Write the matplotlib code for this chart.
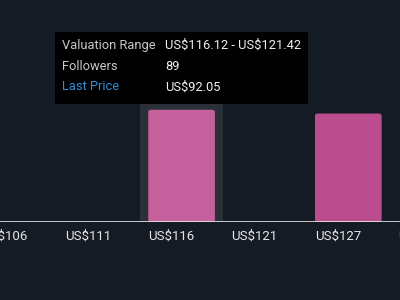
import matplotlib.pyplot as plt
from matplotlib.patches import FancyBboxPatch, Rectangle

# data
categories = ['US$106', 'US$111', 'US$116', 'US$121', 'US$127', 'US$132']
followers = [0, 0, 89, 0, 86, 0]
bar_colors = ['#bb4d8e', '#bb4d8e', '#c4609b', '#bb4d8e', '#bb4d8e', '#bb4d8e']
hover_idx = 2
tooltip_rows = [('Valuation Range', 'US$116.12 - US$121.42'),
                ('Followers', '89'),
                ('Last Price', 'US$92.05')]

plt.rcParams['font.family'] = ['Roboto', 'DejaVu Sans']
plt.rcParams['text.parse_math'] = False
bg = '#151b25'

fig = plt.figure(figsize=(4, 3), dpi=100, facecolor=bg)
ax = fig.add_axes([0, 0.26, 1, 0.74])
ax.set_facecolor(bg)

# highlight band behind hovered category
ax.bar(hover_idx, 100, width=1.0, color='#2a2f38', zorder=0)

width = 0.8
for i, (v, c) in enumerate(zip(followers, bar_colors)):
    if v > 0:
        ax.add_patch(FancyBboxPatch((i - width / 2, 0), width, v,
                                    boxstyle='round,pad=0,rounding_size=0.04',
                                    mutation_aspect=40, fc=c, ec='none', zorder=2))

ax.axhline(0, color='#e8e8e8', lw=1.2, zorder=3)

for s in ax.spines.values():
    s.set_visible(False)
ax.set_yticks([])
ax.set_xticks([])
ax.set_xlim(-0.178, 4.62)
ax.set_ylim(0, 176)

# category labels, left-aligned with bar edge
for i, cat in enumerate(categories):
    ax.text(i - width / 2, -14 / 222, cat, transform=ax.get_xaxis_transform(),
            ha='left', va='center', color='#e6e6e6', fontsize=9.5, clip_on=False)

# tooltip (pixel coordinates, origin top-left)
def px(x, y):
    return x / 400, 1 - y / 300

x0, y0 = px(55, 104)
x1, y1 = px(308, 32)
fig.patches.append(Rectangle((x0, y0), x1 - x0, y1 - y0, transform=fig.transFigure,
                             fc='#000000', ec='none', zorder=5))
for k, (lab, val) in enumerate(tooltip_rows):
    ty = 45 + k * 21
    lc = '#2f8fd8' if lab == 'Last Price' else '#c8c8c8'
    fig.text(*px(62, ty), lab, color=lc, fontsize=9.3, va='center', zorder=6)
    fig.text(*px(165, ty), val, color='#f0f0f0', fontsize=9.3, va='center', zorder=6)

fig.savefig('out.png', dpi=100, facecolor=bg)
